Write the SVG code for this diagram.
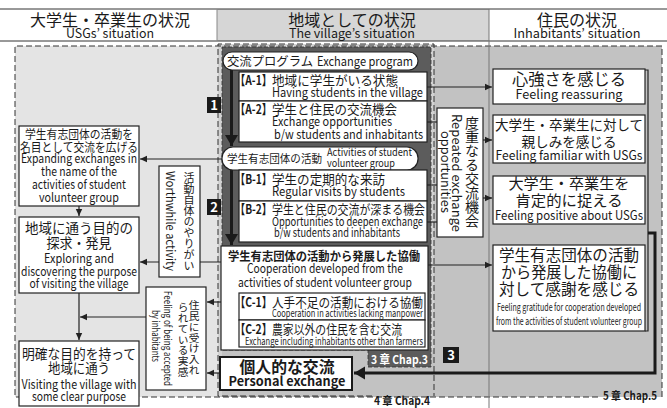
<svg xmlns="http://www.w3.org/2000/svg" width="667" height="408" viewBox="0 0 667 408">
<defs>
<style>
text{font-family:"Noto Sans CJK JP","Noto Sans",sans-serif;fill:#1a1a1a}
.m{text-anchor:middle}
.b{font-weight:bold}
.box{fill:#fff;stroke:#222;stroke-width:1.2}
.pill{fill:#fff;stroke:#222;stroke-width:1.2}
.ln{stroke:#222;stroke-width:1.2;fill:none}
.ar{marker-end:url(#ah)}
.thk{stroke:#1a1a1a;stroke-width:3;fill:none}
.dash{fill:none;stroke:#333;stroke-width:1;stroke-dasharray:6 3}
.v{writing-mode:vertical-rl}
.badge{fill:#1a1a1a}
.bt{fill:#fff;font-weight:bold;font-size:13px;text-anchor:middle}
.lbl{font-weight:bold;font-size:13px}
</style>
<marker id="ah" markerWidth="8" markerHeight="8" refX="7" refY="4" orient="auto" markerUnits="userSpaceOnUse"><path d="M0,0.8 L7,4 L0,7.2 z" fill="#222"/></marker>
<marker id="ahT" markerWidth="14" markerHeight="14" refX="11" refY="7" orient="auto" markerUnits="userSpaceOnUse"><path d="M0,0.5 L11,7 L0,13.5 z" fill="#1a1a1a"/></marker>
</defs>

<g id="background">
<rect x="0" y="0" width="667" height="408" fill="#fff"/>
<rect x="217" y="9" width="272" height="32" fill="#d6d6d6"/>
<line x1="0" y1="9" x2="667" y2="9" stroke="#333" stroke-width="1"/>
<line x1="0" y1="41" x2="667" y2="41" stroke="#333" stroke-width="1"/>
<line x1="217" y1="9" x2="217" y2="41" stroke="#888" stroke-width="1"/>
<rect x="15" y="46" width="647" height="351" fill="#e4e4e4"/>
<rect x="218" y="46" width="444" height="351" fill="#c2c2c2"/>
<rect x="218" y="44" width="216" height="352" fill="#d2d2d2"/>
<rect x="222" y="350" width="212" height="46" fill="#c2c2c2"/>
<path d="M222,47 H431 V367 H368 V350 H222 Z" fill="#5c5c5c"/>
<path d="M222,47 H431 V367 H368 V350 H222 Z" fill="none" stroke="#333" stroke-width="0.8" stroke-dasharray="4 2"/>
<path d="M372,396 H218 V44 H434 V396" class="dash"/>
<path d="M598,397 H15 V46 H662 V400" class="dash"/>
<line x1="489" y1="9" x2="489" y2="408" stroke="#777" stroke-width="1"/>
</g>

<g id="headers">
<text x="110" y="26" font-size="16" class="m">大学生・卒業生の状況</text>
<text x="110" y="38" font-size="12.5" class="m" textLength="88" lengthAdjust="spacingAndGlyphs">USGs’ situation</text>
<text x="352" y="26" font-size="16" class="m">地域としての状況</text>
<text x="352" y="38" font-size="12.5" class="m" textLength="126" lengthAdjust="spacingAndGlyphs">The village’s situation</text>
<text x="577" y="26" font-size="16" class="m">住民の状況</text>
<text x="577" y="38" font-size="12.5" class="m" textLength="127" lengthAdjust="spacingAndGlyphs">Inhabitants’ situation</text>
</g>

<g id="connectors">
<line x1="231.5" y1="70" x2="231.5" y2="146" class="thk" marker-end="url(#ahT)"/>
<line x1="231.5" y1="170" x2="231.5" y2="245" class="thk" marker-end="url(#ahT)"/>
<line x1="427" y1="87" x2="492" y2="87" class="ln ar"/>
<line x1="427" y1="122" x2="437" y2="122" class="ln"/>
<line x1="427" y1="185" x2="437" y2="185" class="ln"/>
<line x1="427" y1="222" x2="437" y2="222" class="ln"/>
<line x1="483" y1="140" x2="492" y2="140" class="ln ar"/>
<line x1="483" y1="198" x2="492" y2="198" class="ln ar"/>
<line x1="428" y1="265" x2="492" y2="265" class="ln ar"/>
<path d="M645,70 H648 V331 H645" class="ln"/>
<path d="M648,233 H655 V373 H354" class="thk" marker-end="url(#ahT)"/>
<line x1="222" y1="159" x2="140" y2="159" class="ln ar"/>
<line x1="221" y1="262" x2="140" y2="262" class="ln ar"/>
<line x1="79" y1="206" x2="79" y2="216" class="ln ar"/>
<line x1="79" y1="293" x2="79" y2="340" class="ln ar"/>
<line x1="146" y1="317" x2="80" y2="317" class="ln ar"/>
<line x1="221" y1="302" x2="207" y2="302" class="ln ar"/>
<line x1="220" y1="373" x2="207" y2="373" class="ln ar"/>
</g>

<g id="badge-1"><rect x="207" y="97" width="14" height="16" class="badge"/><text x="214" y="110" class="bt">1</text></g>
<g id="badge-2"><rect x="207" y="199" width="14" height="16" class="badge"/><text x="214" y="212" class="bt">2</text></g>
<g id="badge-3"><rect x="443" y="347" width="16" height="16" class="badge"/><text x="451" y="360" class="bt">3</text></g>

<g id="chap-labels">
<text x="371" y="364" font-size="12" class="b" style="fill:#fff" textLength="57" lengthAdjust="spacingAndGlyphs">3 章 Chap.3</text>
<text x="374" y="405" font-size="11.5" class="b" textLength="56" lengthAdjust="spacingAndGlyphs">4 章 Chap.4</text>
<text x="603" y="400" font-size="11.5" class="b" textLength="54" lengthAdjust="spacingAndGlyphs">5 章 Chap.5</text>
</g>

<g id="exchange-program">
<rect x="223" y="52" width="195" height="18" rx="9" class="pill"/>
<text x="227" y="66" font-size="12.5" textLength="86" lengthAdjust="spacingAndGlyphs">交流プログラム</text>
<text x="317" y="66" font-size="12.5" textLength="96" lengthAdjust="spacingAndGlyphs">Exchange program</text>
</g>

<g id="A-1">
<rect x="239" y="72" width="188" height="29" class="box"/>
<text x="235" y="85" class="lbl" textLength="37" lengthAdjust="spacingAndGlyphs">【A-1】</text>
<text x="272" y="85" font-size="13" textLength="126" lengthAdjust="spacingAndGlyphs">地域に学生がいる状態</text>
<text x="272" y="97" font-size="12.5" textLength="151" lengthAdjust="spacingAndGlyphs">Having students in the village</text>
</g>

<g id="A-2">
<rect x="239" y="101" width="188" height="41" class="box"/>
<text x="235" y="114" class="lbl" textLength="37" lengthAdjust="spacingAndGlyphs">【A-2】</text>
<text x="272" y="114" font-size="13" textLength="125" lengthAdjust="spacingAndGlyphs">学生と住民の交流機会</text>
<text x="272" y="126" font-size="12.5" textLength="120" lengthAdjust="spacingAndGlyphs">Exchange opportunities</text>
<text x="274" y="139" font-size="12.5" textLength="149" lengthAdjust="spacingAndGlyphs">b/w students and inhabitants</text>
</g>

<g id="student-activities">
<rect x="222" y="147" width="196" height="23" rx="11" class="pill"/>
<text x="227" y="163" font-size="11.5" textLength="95" lengthAdjust="spacingAndGlyphs">学生有志団体の活動</text>
<text x="327" y="156" font-size="11" textLength="85" lengthAdjust="spacingAndGlyphs">Activities of student</text>
<text x="327" y="167" font-size="11" textLength="68" lengthAdjust="spacingAndGlyphs">volunteer group</text>
</g>

<g id="B-1">
<rect x="239" y="170" width="188" height="31" class="box"/>
<text x="235" y="184" class="lbl" textLength="37" lengthAdjust="spacingAndGlyphs">【B-1】</text>
<text x="272" y="184" font-size="13" textLength="113" lengthAdjust="spacingAndGlyphs">学生の定期的な来訪</text>
<text x="272" y="196" font-size="12.5" textLength="133" lengthAdjust="spacingAndGlyphs">Regular visits by students</text>
</g>

<g id="B-2">
<rect x="239" y="201" width="188" height="41" class="box"/>
<text x="235" y="214" class="lbl" textLength="37" lengthAdjust="spacingAndGlyphs">【B-2】</text>
<text x="272" y="214" font-size="13" textLength="153" lengthAdjust="spacingAndGlyphs">学生と住民の交流が深まる機会</text>
<text x="272" y="226" font-size="12" textLength="151" lengthAdjust="spacingAndGlyphs">Opportunities to deepen exchange</text>
<text x="274" y="237" font-size="12" textLength="126" lengthAdjust="spacingAndGlyphs">b/w students and inhabitants</text>
</g>

<g id="cooperation">
<rect x="221" y="246" width="207" height="104" class="box"/>
<text x="228" y="261" font-size="12" class="b" textLength="192" lengthAdjust="spacingAndGlyphs">学生有志団体の活動から発展した協働</text>
<text x="325" y="273" font-size="12.5" class="m" textLength="156" lengthAdjust="spacingAndGlyphs">Cooperation developed from the</text>
<text x="325" y="287" font-size="12.5" class="m" textLength="174" lengthAdjust="spacingAndGlyphs">activities of student volunteer group</text>
</g>

<g id="C-1">
<rect x="239" y="293" width="186" height="27" class="box"/>
<text x="235" y="307" class="lbl" textLength="37" lengthAdjust="spacingAndGlyphs">【C-1】</text>
<text x="272" y="307" font-size="13" textLength="151" lengthAdjust="spacingAndGlyphs">人手不足の活動における協働</text>
<text x="272" y="317" font-size="10" textLength="151" lengthAdjust="spacingAndGlyphs">Cooperation in activities lacking manpower</text>
</g>

<g id="C-2">
<rect x="239" y="320" width="186" height="27" class="box"/>
<text x="235" y="334" class="lbl" textLength="37" lengthAdjust="spacingAndGlyphs">【C-2】</text>
<text x="272" y="334" font-size="13" textLength="130" lengthAdjust="spacingAndGlyphs">農家以外の住民を含む交流</text>
<text x="245" y="345" font-size="10" textLength="178" lengthAdjust="spacingAndGlyphs">Exchange including  inhabitants other than farmers</text>
</g>

<g id="personal-exchange">
<rect x="220" y="357" width="132" height="33" fill="#fff" stroke="#1a1a1a" stroke-width="2"/>
<text x="287" y="373" font-size="16" class="m b" textLength="95" lengthAdjust="spacingAndGlyphs">個人的な交流</text>
<text x="287" y="386" font-size="13" class="m b" textLength="117" lengthAdjust="spacingAndGlyphs">Personal exchange</text>
</g>

<g id="repeated-opportunities">
<rect x="437" y="108" width="46" height="129" class="box"/>
<text x="472" y="116" font-size="14" class="v">度重なる交流機会</text>
<text transform="translate(452,114) rotate(90)" font-size="13" textLength="118" lengthAdjust="spacingAndGlyphs">Repeated exchange</text>
<text transform="translate(441,131) rotate(90)" font-size="13" textLength="82" lengthAdjust="spacingAndGlyphs">opportunities</text>
</g>

<g id="reassuring">
<rect x="493" y="69" width="152" height="35" class="box"/>
<text x="569" y="85" font-size="16" class="m" textLength="114" lengthAdjust="spacingAndGlyphs">心強さを感じる</text>
<text x="569" y="99" font-size="13" class="m" textLength="107" lengthAdjust="spacingAndGlyphs">Feeling reassuring</text>
</g>

<g id="familiar">
<rect x="493" y="115" width="152" height="48" class="box"/>
<text x="569" y="130" font-size="14" class="m" textLength="148" lengthAdjust="spacingAndGlyphs">大学生・卒業生に対して</text>
<text x="569" y="147" font-size="14" class="m" textLength="95" lengthAdjust="spacingAndGlyphs">親しみを感じる</text>
<text x="569" y="160" font-size="12.5" class="m" textLength="147" lengthAdjust="spacingAndGlyphs">Feeling familiar with USGs</text>
</g>

<g id="positive">
<rect x="493" y="176" width="152" height="48" class="box"/>
<text x="569" y="189" font-size="15" class="m" textLength="121" lengthAdjust="spacingAndGlyphs">大学生・卒業生を</text>
<text x="569" y="206" font-size="15" class="m" textLength="107" lengthAdjust="spacingAndGlyphs">肯定的に捉える</text>
<text x="569" y="220" font-size="12.5" class="m" textLength="148" lengthAdjust="spacingAndGlyphs">Feeling positive about USGs</text>
</g>

<g id="gratitude">
<rect x="493" y="245" width="152" height="86" class="box"/>
<text x="569" y="261" font-size="15.5" class="m" textLength="140" lengthAdjust="spacingAndGlyphs">学生有志団体の活動</text>
<text x="569" y="278" font-size="15.5" class="m" textLength="136" lengthAdjust="spacingAndGlyphs">から発展した協働に</text>
<text x="569" y="295" font-size="15.5" class="m" textLength="140" lengthAdjust="spacingAndGlyphs">対して感謝を感じる</text>
<text x="569" y="311" font-size="10" class="m" textLength="144" lengthAdjust="spacingAndGlyphs">Feeling gratitude for cooperation developed</text>
<text x="569" y="325" font-size="10" class="m" textLength="146" lengthAdjust="spacingAndGlyphs">from the activities of student volunteer group</text>
</g>

<g id="expanding">
<rect x="19" y="126" width="120" height="80" class="box"/>
<text x="79" y="139" font-size="12" class="m" textLength="108" lengthAdjust="spacingAndGlyphs">学生有志団体の活動を</text>
<text x="79" y="152" font-size="12" class="m" textLength="118" lengthAdjust="spacingAndGlyphs">名目として交流を広げる</text>
<text x="79" y="163" font-size="12.5" class="m" textLength="116" lengthAdjust="spacingAndGlyphs">Expanding exchanges in</text>
<text x="79" y="176" font-size="12.5" class="m" textLength="76" lengthAdjust="spacingAndGlyphs">the name of the</text>
<text x="79" y="189" font-size="12.5" class="m" textLength="94" lengthAdjust="spacingAndGlyphs">activities of student</text>
<text x="79" y="202" font-size="12.5" class="m" textLength="80" lengthAdjust="spacingAndGlyphs">volunteer group</text>
</g>

<g id="exploring">
<rect x="19" y="217" width="120" height="76" class="box"/>
<text x="79" y="233" font-size="14" class="m" textLength="108" lengthAdjust="spacingAndGlyphs">地域に通う目的の</text>
<text x="79" y="248" font-size="14" class="m" textLength="65" lengthAdjust="spacingAndGlyphs">探求・発見</text>
<text x="79" y="263" font-size="12.5" class="m" textLength="70" lengthAdjust="spacingAndGlyphs">Exploring and</text>
<text x="79" y="276" font-size="12.5" class="m" textLength="116" lengthAdjust="spacingAndGlyphs">discovering the purpose</text>
<text x="79" y="288" font-size="12.5" class="m" textLength="99" lengthAdjust="spacingAndGlyphs">of visiting the village</text>
</g>

<g id="clear-purpose">
<rect x="19" y="341" width="120" height="65" class="box"/>
<text x="79" y="359" font-size="13.5" class="m" textLength="114" lengthAdjust="spacingAndGlyphs">明確な目的を持って</text>
<text x="79" y="373" font-size="13.5" class="m" textLength="62" lengthAdjust="spacingAndGlyphs">地域に通う</text>
<text x="79" y="389" font-size="12.5" class="m" textLength="115" lengthAdjust="spacingAndGlyphs">Visiting the village with</text>
<text x="79" y="401" font-size="12.5" class="m" textLength="94" lengthAdjust="spacingAndGlyphs">some clear purpose</text>
</g>

<g id="worthwhile">
<rect x="159" y="166" width="41" height="111" class="box"/>
<text x="189" y="172" font-size="11" class="v">活動自体のやりがい</text>
<text transform="translate(166,171) rotate(90)" font-size="12" textLength="100" lengthAdjust="spacingAndGlyphs">Worthwhile activity</text>
</g>

<g id="accepted">
<rect x="146" y="287" width="60" height="103" class="box"/>
<text x="194" y="300" font-size="10.7" class="v">住民に受け入れ</text>
<text x="183" y="302" font-size="10.7" class="v">られている実感</text>
<text transform="translate(164,291) rotate(90)" font-size="10" textLength="95" lengthAdjust="spacingAndGlyphs">Feeling of being accepted</text>
<text transform="translate(152,310) rotate(90)" font-size="10" textLength="52" lengthAdjust="spacingAndGlyphs">by inhabitants</text>
</g>
</svg>
